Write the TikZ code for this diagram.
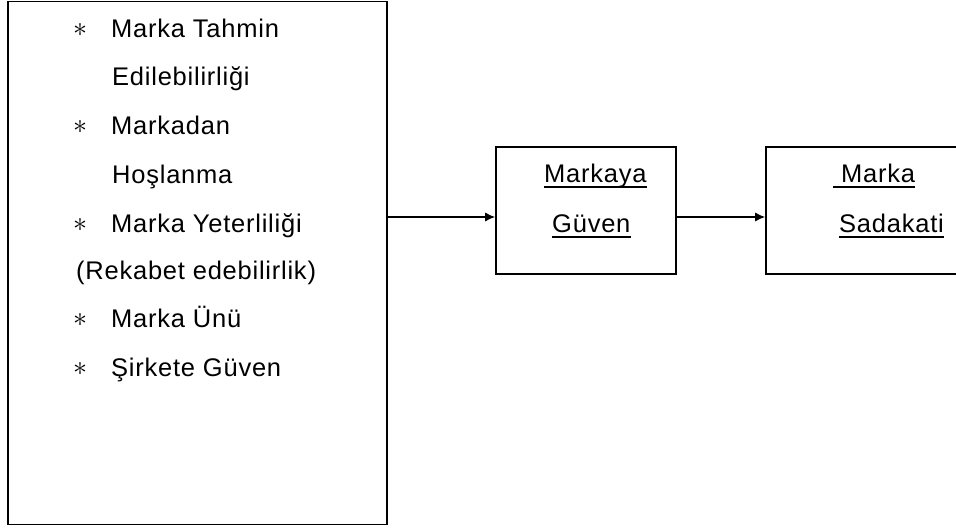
\documentclass[tikz,border=0pt]{standalone}
\usepackage{fontspec}
\setmainfont{Liberation Sans}[LetterSpace=3]
\usetikzlibrary{arrows.meta}
\begin{document}
\begin{tikzpicture}[x=1pt,y=-1pt,
  box/.style={draw, line width=1.6pt, inner sep=0pt},
  txt/.style={anchor=base west, inner sep=0pt, font=\fontsize{25.5}{29}\selectfont},
  star/.style={inner sep=0pt, scale=1.35, font=\fontsize{20}{24}\selectfont},
  uline/.style={line width=1.8pt},
  link/.style={line width=1.3pt, -{Latex[length=10pt,width=9pt]}}]
\clip (0,0) rectangle (956,529);
\fill[white] (0,0) rectangle (956,529);

% boxes
\node[box, minimum width=379pt, minimum height=523pt] (L) at (197.5,263) {};
\node[box, minimum width=180pt, minimum height=127pt] (M) at (586,210.5) {};
\node[box, minimum width=196pt, minimum height=127pt] (S) at (864,210.5) {};

% list inside the left box
\node[star] (s1) at (80,30) {$\ast$};
\node[txt] (t1) at (111,38) {Marka Tahmin};
\node[txt] (t2) at (112,86) {Edilebilirliği};
\node[star] (s2) at (80,127) {$\ast$};
\node[txt] (t3) at (111,135) {Markadan};
\node[txt] (t4) at (112,184) {Hoşlanma};
\node[star] (s3) at (80,225) {$\ast$};
\node[txt] (t5) at (111,233) {Marka Yeterliliği};
\node[txt] (t6) at (76,280) {(Rekabet edebilirlik)};
\node[star] (s4) at (80,320) {$\ast$};
\node[txt] (t7) at (111,328) {Marka Ünü};
\node[star] (s5) at (80,369) {$\ast$};
\node[txt] (t8) at (111,377) {Şirkete Güven};

% underlined labels
\node[txt] (m1) at (544,183) {Markaya};
\node[txt] (m2) at (552,233) {Güven\ };
\node[txt] (r1) at (833,183) {\ Marka};
\node[txt] (r2) at (839,233) {Sadakati};
\foreach \n in {m1,m2,r1,r2}
  \draw[uline] ([yshift=-4pt]\n.base west) -- ([yshift=-4pt]\n.base east);

% connectors
\coordinate (lvl) at (0,217);
\draw[link] (L.east |- lvl) -- (M.west |- lvl);
\draw[link] (M.east |- lvl) -- (S.west |- lvl);
\end{tikzpicture}
\end{document}
